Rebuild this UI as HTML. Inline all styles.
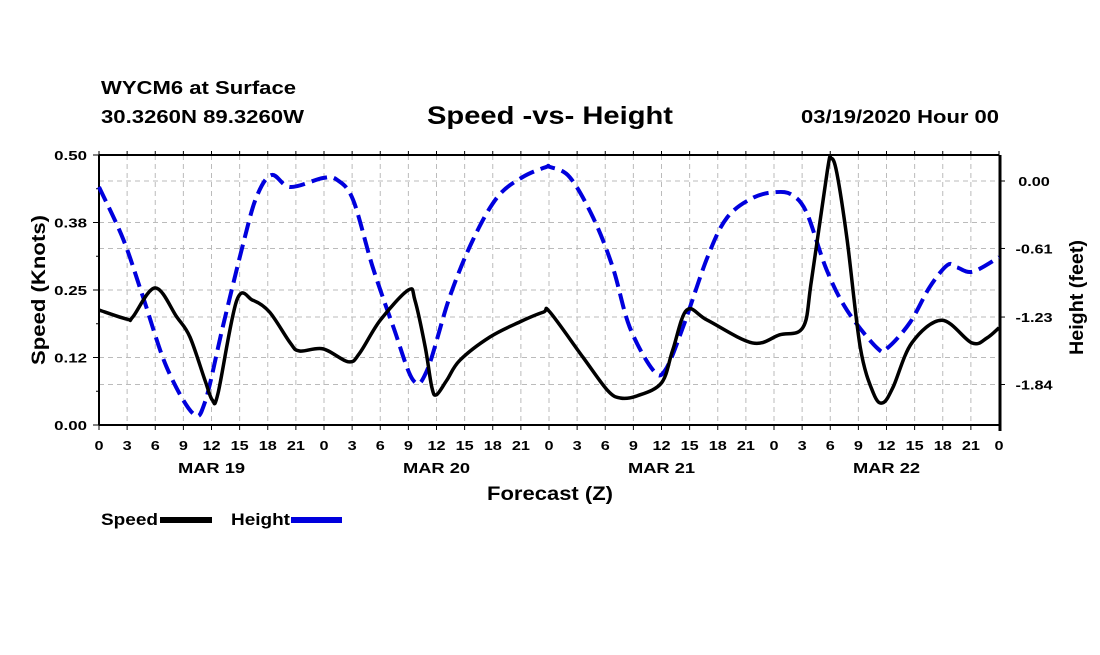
<!DOCTYPE html>
<html><head><meta charset="utf-8"><style>
html,body{margin:0;padding:0;background:#fff;}
svg text{font-family:"Liberation Sans",sans-serif;font-weight:bold;fill:#000;}
</style></head><body>
<svg id="chart" width="1100" height="650" viewBox="0 0 1100 650">
<text x="101" y="94" font-size="18" textLength="195" lengthAdjust="spacingAndGlyphs">WYCM6 at Surface</text>
<text x="101" y="123" font-size="18" textLength="203" lengthAdjust="spacingAndGlyphs">30.3260N 89.3260W</text>
<text x="427" y="124" font-size="25" textLength="246" lengthAdjust="spacingAndGlyphs">Speed -vs- Height</text>
<text x="801" y="123" font-size="18" textLength="198" lengthAdjust="spacingAndGlyphs">03/19/2020 Hour 00</text>
<g id="grid"></g>
<g id="axes"></g>
<g id="series"></g>
<text x="487" y="500" font-size="19" textLength="126" lengthAdjust="spacingAndGlyphs">Forecast (Z)</text>
<text transform="translate(45,365) rotate(-90)" font-size="19" textLength="150" lengthAdjust="spacingAndGlyphs">Speed (Knots)</text>
<text transform="translate(1083,355) rotate(-90)" font-size="19" textLength="115" lengthAdjust="spacingAndGlyphs">Height (feet)</text>
<g>
<text x="101" y="525" font-size="17" textLength="57" lengthAdjust="spacingAndGlyphs">Speed</text>
<line x1="160" y1="520" x2="212" y2="520" stroke="#000" stroke-width="6"/>
<text x="231" y="525" font-size="17" textLength="59" lengthAdjust="spacingAndGlyphs">Height</text>
<line x1="291" y1="520" x2="342" y2="520" stroke="#0000dd" stroke-width="6"/>
</g>
</svg>
<script>
const speedHours=[0,3,3.6,6,8.3,9.7,11.3,12.1,12.7,14.7,16.4,18.2,20.4,21.4,23.9,26.6,27.8,30,33,33.7,34.8,35.5,36,37.1,38.5,41.7,44.9,47.4,48.1,51.6,54.2,55.6,57.4,60,61.2,62.7,64.9,69.7,72.6,75.1,76,77.7,78.1,78.7,79.8,81.2,82.6,83.6,84.7,86.7,89.9,93.1,94.7,96];
const speedValues=[0.213,0.196,0.2,0.254,0.2,0.163,0.083,0.046,0.059,0.231,0.231,0.209,0.152,0.137,0.141,0.117,0.133,0.194,0.25,0.231,0.144,0.07,0.056,0.083,0.12,0.163,0.191,0.209,0.209,0.126,0.065,0.05,0.054,0.078,0.139,0.213,0.194,0.152,0.167,0.181,0.268,0.472,0.494,0.467,0.343,0.144,0.059,0.041,0.07,0.152,0.194,0.152,0.161,0.18];
const heightHours=[0,2.6,4.7,7.2,10,11.3,13.2,15.4,16.8,18.4,20.4,23.9,25.4,27.1,29.2,31.4,33.5,35,37.4,39.9,42.5,45.2,47.7,48.1,50.2,52.7,54.8,56.6,59.1,60.4,62.3,64.9,67,69.8,72.3,74,75.5,77.6,79.8,83,84.1,86.5,88.6,90.5,91.5,93.2,96];
const heightValues=[-0.054,-0.53,-1.05,-1.68,-2.1,-2.0,-1.32,-0.56,-0.145,0.054,-0.054,0.027,0.01,-0.17,-0.78,-1.32,-1.8,-1.71,-1.05,-0.53,-0.145,0.036,0.127,0.127,0.036,-0.33,-0.78,-1.32,-1.71,-1.71,-1.32,-0.69,-0.33,-0.15,-0.1,-0.13,-0.29,-0.8,-1.17,-1.51,-1.51,-1.28,-0.96,-0.76,-0.78,-0.82,-0.69];
const leftTicks=[0,0.125,0.25,0.375,0.5];
const leftTickLabels=["0.00","0.12","0.25","0.38","0.50"];
const rightTicks=[0,-0.61,-1.23,-1.84];
const rightTickLabels=["0.00","-0.61","-1.23","-1.84"];
const dayLabels=["MAR 19","MAR 20","MAR 21","MAR 22"];

const NS="http://www.w3.org/2000/svg";
const X0=99,X1=999,Y0=155,Y1=425;
const xs=h=>X0+(X1-X0)*h/96;
const yL=v=>Y1-(Y1-Y0)*v/0.5;
const yR=v=>181-110.6*v;
function mk(tag,attrs,parent){const e=document.createElementNS(NS,tag);for(const k in attrs)e.setAttribute(k,attrs[k]);parent.appendChild(e);return e;}
function stext(x,y,size,anchor,str,parent,sx){const g=mk('g',{transform:'translate('+x+','+y+') scale('+sx+',1)'},parent);
 const t=mk('text',{x:0,y:0,'font-size':size,'text-anchor':anchor},g);t.textContent=str;return t;}
const grid=document.getElementById('grid'),axes=document.getElementById('axes'),series=document.getElementById('series');
for(let h=3;h<96;h+=3){const l=mk('line',{x1:xs(h),x2:xs(h),y1:Y0,y2:Y1,stroke:'#bbb','stroke-width':1,'stroke-dasharray':'5,4'},grid);

}
leftTicks.slice(1,4).forEach(v=>{const l=mk('line',{x1:X0,x2:X1,y1:yL(v),y2:yL(v),stroke:'#bbb','stroke-width':1,'stroke-dasharray':'5,4'},grid);

});
rightTicks.forEach(v=>{const l=mk('line',{x1:X0,x2:X1,y1:yR(v),y2:yR(v),stroke:'#bbb','stroke-width':1,'stroke-dasharray':'5,4'},grid);

});
mk('line',{x1:X0,x2:X1,y1:Y0,y2:Y0,stroke:'#000','stroke-width':2},axes);
mk('line',{x1:X0,x2:X1,y1:Y1,y2:Y1,stroke:'#000','stroke-width':2},axes);
mk('line',{x1:X0,x2:X0,y1:Y0,y2:Y1,stroke:'#000','stroke-width':2},axes);
mk('line',{x1:X1+1,x2:X1+1,y1:Y0,y2:Y1+6,stroke:'#000','stroke-width':3},axes);
for(let h=0;h<=96;h+=3){
 mk('line',{x1:xs(h),x2:xs(h),y1:Y1,y2:Y1+5,stroke:'#000','stroke-width':1},axes);
 mk('line',{x1:xs(h),x2:xs(h),y1:Y0-4,y2:Y0,stroke:'#000','stroke-width':1},axes);
 const t=stext(xs(h),450,13,'middle',String(h%24),axes,1.25);
 
 
}
dayLabels.forEach((d,i)=>{const t=stext(xs(12+24*i),473,15,'middle',d,axes,1.22);

});
leftTicks.forEach((v,i)=>{mk('line',{x1:X0-6,x2:X0,y1:yL(v),y2:yL(v),stroke:'#000','stroke-width':1},axes);
 const t=stext(X0-12,yL(v)+5,13,'end',leftTickLabels[i],axes,1.3);
 
 });
for(let v=0.0625;v<0.5;v+=0.125)mk('line',{x1:X0-3,x2:X0,y1:yL(v),y2:yL(v),stroke:'#000','stroke-width':1},axes);
rightTicks.forEach((v,i)=>{mk('line',{x1:X1,x2:X1+6,y1:yR(v),y2:yR(v),stroke:'#000','stroke-width':1},axes);
 const t=stext(1034,yR(v)+5,13,'middle',rightTickLabels[i],axes,1.25);
 
 });
function smooth(pts){let d='M'+pts[0][0]+','+pts[0][1];
 for(let i=0;i<pts.length-1;i++){const p0=pts[Math.max(0,i-1)],p1=pts[i],p2=pts[i+1],p3=pts[Math.min(pts.length-1,i+2)];
  const c1=[p1[0]+(p2[0]-p0[0])/6,p1[1]+(p2[1]-p0[1])/6],c2=[p2[0]-(p3[0]-p1[0])/6,p2[1]-(p3[1]-p1[1])/6];
  d+=' C'+c1[0]+','+c1[1]+' '+c2[0]+','+c2[1]+' '+p2[0]+','+p2[1];}
 return d;}
const hp=mk('path',{d:smooth(heightHours.map((h,i)=>[xs(h),yR(heightValues[i])])),fill:'none',stroke:'#0000dd','stroke-width':4,'stroke-dasharray':'16,7'},series);


const sp=mk('path',{d:smooth(speedHours.map((h,i)=>[xs(h),yL(speedValues[i])])),fill:'none',stroke:'#000','stroke-width':3.5,'stroke-linejoin':'round'},series);


</script>
</body></html>
